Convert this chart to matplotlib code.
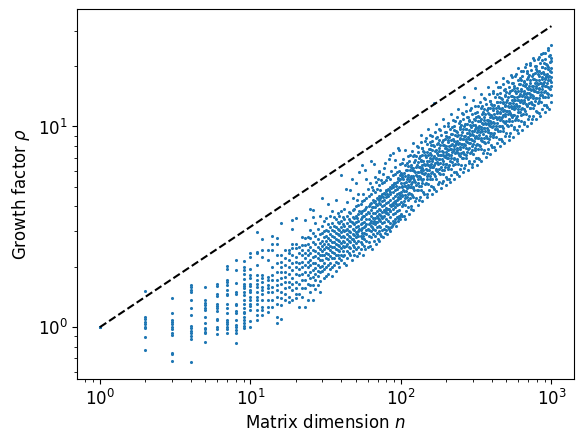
import numpy as np
import matplotlib
matplotlib.use("Agg")
import matplotlib.pyplot as plt

# growth factor samples
small_cols = [
    (1, [1.0, 1.0, 1.0]),
    (2, [1.52, 1.125, 1.096, 1.063, 1.035, 1.0, 0.985, 0.889, 0.768]),
    (3, [1.39, 1.17, 1.08, 1.063, 1.035, 1.0, 0.974, 0.93, 0.912, 0.745, 0.733, 0.675]),
    (4, [1.63, 1.59, 1.54, 1.50, 1.36, 1.24, 1.148, 1.01, 0.985, 0.955, 0.93, 0.902, 0.878, 0.669]),
    (5, [1.58, 1.36, 1.32, 1.29, 1.25, 1.22, 1.125, 1.05, 0.99, 0.974, 0.947, 0.93, 0.842]),
    (6, [1.65, 1.60, 1.47, 1.43, 1.31, 1.27, 1.24, 1.20, 1.10, 1.08, 1.0, 0.974, 0.923]),
    (7, [2.01, 1.96, 1.71, 1.67, 1.62, 1.53, 1.47, 1.44, 1.31, 1.24, 1.17, 1.09, 1.06, 1.035, 1.0, 0.974, 0.937]),
    (8, [2.17, 1.92, 1.66, 1.50, 1.47, 1.31, 1.29, 1.21, 1.18, 1.08, 1.02, 1.0, 0.966, 0.937, 0.83]),
    (9, [2.13, 2.0, 1.92, 1.85, 1.73, 1.65, 1.60, 1.56, 1.50, 1.44, 1.37, 1.31, 1.24, 1.19, 1.17, 1.125, 1.08, 1.05, 1.01, 0.985]),
    (10, [2.35, 2.24, 1.96, 1.82, 1.75, 1.65, 1.60, 1.54, 1.50, 1.42, 1.37, 1.31, 1.27, 1.22, 1.075, 1.0]),
    (11, [2.98, 2.37, 2.33, 2.04, 1.82, 1.71, 1.65, 1.58, 1.50, 1.42, 1.36, 1.30, 1.22, 1.15, 1.08]),
    (12, [2.74, 2.42, 2.24, 1.82, 1.75, 1.68, 1.59, 1.54, 1.47, 1.36, 1.26, 1.22, 1.15]),
    (13, [2.42, 2.16, 1.78, 1.71, 1.62, 1.56, 1.50, 1.36, 1.26, 1.19]),
    (14, [2.84, 2.61, 2.42, 2.0, 1.82, 1.71, 1.59, 1.50, 1.36, 1.26]),
    (15, [2.77, 2.61, 2.28, 2.08, 1.89, 1.71, 1.62, 1.53, 1.42, 1.31, 1.125, 1.05]),
    (16, [3.29, 2.28, 2.12, 2.0, 1.89, 1.75, 1.65, 1.50, 1.39, 1.29, 1.10]),
    (17, [2.42, 2.20, 2.04, 1.89, 1.78, 1.68, 1.56, 1.47, 1.36]),
    (18, [2.42, 2.33, 2.16, 2.0, 1.85, 1.68, 1.59, 1.42, 1.34]),
    (19, [3.41, 3.10, 2.61, 2.47, 2.28, 2.08, 1.92, 1.75, 1.65, 1.53, 1.36]),
    (20, [3.48, 2.61, 2.47, 2.24, 2.12, 2.0, 1.85, 1.68, 1.56, 1.47, 1.39]),
    (21, [2.51, 2.33, 2.08, 1.96, 1.82, 1.65, 1.47, 1.26]),
    (22, [2.82, 2.56, 2.42, 2.28, 2.12, 2.0, 1.85, 1.71, 1.56, 1.42]),
    (23, [3.41, 2.77, 2.56, 2.33, 2.20, 2.04, 1.89, 1.71, 1.56, 1.26]),
    (24, [2.82, 2.61, 2.42, 2.28, 2.12, 2.0, 1.82, 1.65, 1.36]),
    (25, [3.90, 3.04, 2.77, 2.51, 2.33, 2.16, 2.04, 1.89, 1.75, 1.62, 1.50]),
    (26, [3.83, 3.55, 2.93, 2.66, 2.42, 2.24, 2.08, 1.92, 1.78, 1.62, 1.36]),
]

mid_cols = [
    (27, [1.55, 1.72, 1.85, 1.98, 2.1, 2.25, 2.4, 2.6, 2.85, 3.3]),
    (28, [1.62, 1.8, 1.9, 2.05, 2.2, 2.35, 2.5, 2.75, 3.1]),
    (29, [1.5, 1.7, 1.88, 2.0, 2.15, 2.3, 2.45, 2.62, 2.9, 3.6]),
    (30, [1.9, 2.02, 2.15, 2.28, 2.4, 2.55, 2.7, 2.95, 3.2, 4.4]),
    (31, [1.75, 1.95, 2.1, 2.3, 2.45, 2.6, 2.8, 3.0, 3.4]),
    (32, [1.8, 2.0, 2.2, 2.35, 2.5, 2.68, 2.85, 3.05, 3.5]),
    (33, [1.85, 2.05, 2.18, 2.32, 2.48, 2.6, 2.78, 3.0, 3.25, 4.1]),
    (34, [1.95, 2.1, 2.25, 2.42, 2.55, 2.72, 2.9, 3.15, 3.6]),
    (35, [1.8, 2.0, 2.2, 2.38, 2.52, 2.66, 2.85, 3.05, 3.3, 3.8]),
    (36, [2.05, 2.2, 2.35, 2.5, 2.65, 2.82, 3.0, 3.2, 3.55]),
    (37, [1.9, 2.12, 2.3, 2.45, 2.6, 2.75, 2.95, 3.15, 3.45, 4.3]),
    (38, [2.1, 2.28, 2.42, 2.58, 2.72, 2.9, 3.1, 3.35, 3.7]),
    (39, [2.0, 2.2, 2.4, 2.55, 2.7, 2.88, 3.05, 3.3, 3.6]),
    (40, [2.15, 2.3, 2.48, 2.62, 2.8, 2.98, 3.15, 3.4, 3.8, 5.7]),
    (41, [2.25, 2.4, 2.55, 2.7, 2.86, 3.05, 3.25, 3.55]),
    (42, [2.1, 2.3, 2.5, 2.66, 2.82, 3.0, 3.2, 3.45, 3.9]),
    (44, [2.2, 2.4, 2.6, 2.75, 2.92, 3.1, 3.3, 3.6, 4.2]),
    (45, [2.35, 2.5, 2.68, 2.85, 3.0, 3.2, 3.45, 3.75]),
    (46, [2.3, 2.48, 2.65, 2.8, 2.98, 3.18, 3.4, 3.7, 4.8]),
    (48, [2.4, 2.58, 2.75, 2.92, 3.1, 3.3, 3.55, 3.85, 4.4]),
    (49, [2.3, 2.5, 2.7, 2.88, 3.05, 3.25, 3.5, 3.9]),
    (50, [2.45, 2.62, 2.8, 2.98, 3.15, 3.35, 3.6, 4.0, 5.2]),
    (52, [2.5, 2.7, 2.85, 3.0, 3.2, 3.4, 3.65, 4.05, 4.6]),
    (54, [2.45, 2.65, 2.85, 3.05, 3.25, 3.45, 3.7, 4.1]),
    (55, [2.6, 2.78, 2.95, 3.12, 3.3, 3.52, 3.8, 4.25, 6.4]),
    (57, [2.55, 2.75, 2.95, 3.15, 3.35, 3.58, 3.85, 4.3]),
    (59, [2.7, 2.9, 3.05, 3.25, 3.45, 3.65, 3.95, 4.4, 5.5]),
    (61, [2.65, 2.85, 3.05, 3.25, 3.45, 3.7, 4.0, 4.5]),
    (63, [2.8, 3.0, 3.2, 3.4, 3.6, 3.85, 4.15, 4.6, 6.7]),
    (65, [2.9, 3.1, 3.3, 3.5, 3.72, 3.98, 4.3, 4.8]),
    (67, [2.85, 3.05, 3.25, 3.48, 3.7, 3.95, 4.25, 4.7, 5.6]),
    (69, [2.95, 3.15, 3.35, 3.58, 3.8, 4.05, 4.4, 4.9]),
    (71, [3.0, 3.2, 3.42, 3.65, 3.9, 4.15, 4.5, 5.1, 5.9]),
    (73, [2.9, 3.15, 3.4, 3.62, 3.85, 4.1, 4.4, 4.85]),
    (75, [3.05, 3.3, 3.5, 3.75, 4.0, 4.25, 4.6, 5.2]),
    (77, [3.1, 3.35, 3.6, 3.82, 4.05, 4.3, 4.65, 5.3, 6.2]),
    (80, [3.2, 3.45, 3.7, 3.92, 4.15, 4.45, 4.8, 5.4]),
    (82, [3.15, 3.4, 3.65, 3.9, 4.2, 4.5, 4.9, 5.6]),
    (85, [3.3, 3.55, 3.8, 4.05, 4.3, 4.6, 5.0, 5.5, 7.2]),
    (88, [3.4, 3.65, 3.9, 4.15, 4.42, 4.72, 5.1, 5.7]),
    (91, [3.45, 3.7, 3.95, 4.2, 4.5, 4.8, 5.2, 5.8, 6.8]),
    (94, [3.55, 3.8, 4.05, 4.3, 4.6, 4.9, 5.3, 5.9]),
    (97, [3.6, 3.85, 4.1, 4.38, 4.68, 5.0, 5.4, 6.0, 7.6]),
]

# extra scatter between the mid columns
mid_fill = [
    (43, [2.05, 2.55, 3.05, 4.9]), (47, [2.15, 2.75, 3.35, 5.5]), (51, [2.25, 2.9, 3.5, 4.3]),
    (53, [2.35, 3.1, 3.8, 5.9]), (56, [2.3, 2.85, 3.6, 4.6]), (58, [2.45, 3.2, 3.9, 6.1]),
    (60, [2.5, 3.1, 3.75, 4.9]), (62, [2.55, 3.3, 4.1, 5.2]), (64, [2.45, 3.15, 3.95, 5.0]),
    (66, [2.7, 3.4, 4.2, 6.5]), (68, [2.6, 3.35, 4.1, 5.3]), (70, [2.75, 3.5, 4.35, 5.5]),
    (72, [2.7, 3.45, 4.3, 6.0]), (74, [2.85, 3.6, 4.5, 5.4]), (76, [2.8, 3.55, 4.45, 5.8]),
    (78, [2.95, 3.75, 4.6, 6.6]), (79, [3.05, 3.85, 4.75]), (81, [2.9, 3.7, 4.6, 5.6]),
    (83, [3.1, 3.9, 4.85, 6.9]), (84, [3.0, 3.8, 4.7]), (86, [3.15, 4.0, 4.95, 6.0]),
    (87, [3.2, 4.1, 5.1]), (89, [3.25, 4.05, 5.0, 7.4]), (90, [3.3, 4.2, 5.25]),
    (92, [3.35, 4.25, 5.2, 6.3]), (93, [3.2, 4.1, 5.05]), (95, [3.4, 4.35, 5.45, 7.8]),
    (96, [3.5, 4.45, 5.55]), (98, [3.45, 4.4, 5.5, 6.5]), (99, [3.6, 4.55, 5.7]),
]

large_cols = [
    (100, [3.65, 4.2, 4.7, 5.2, 5.85]),
    (102, [4.0, 4.55, 5.0, 5.6, 6.6]),
    (105, [3.6, 4.25, 4.75, 5.25, 5.85]),
    (107, [4.05, 4.55, 5.05, 5.65, 7.6]),
    (110, [4.45, 4.95, 5.45, 6.1, 6.6]),
    (112, [3.95, 4.6, 5.1, 5.6, 6.35]),
    (115, [4.4, 5.0, 5.45, 6.1, 7.2]),
    (117, [3.9, 4.6, 5.15, 5.65, 6.3]),
    (120, [4.45, 5.0, 5.55, 6.2, 8.3]),
    (123, [4.85, 5.4, 6.0, 6.65, 7.25]),
    (126, [4.4, 5.1, 5.7, 6.25, 7.1]),
    (129, [4.8, 5.45, 5.95, 6.65, 7.9]),
    (132, [4.3, 5.05, 5.65, 6.25, 6.95]),
    (135, [4.85, 5.45, 6.05, 6.8, 9.1]),
    (138, [5.25, 5.85, 6.45, 7.2, 7.8]),
    (141, [4.7, 5.45, 6.1, 6.7, 7.55]),
    (145, [5.15, 5.85, 6.45, 7.2, 8.5]),
    (148, [4.6, 5.45, 6.1, 6.7, 7.5]),
    (151, [5.15, 5.8, 6.45, 7.2, 9.7]),
    (155, [5.65, 6.3, 6.95, 7.75, 8.4]),
    (159, [5.05, 5.85, 6.5, 7.2, 8.1]),
    (162, [5.5, 6.25, 6.85, 7.65, 9.0]),
    (166, [4.9, 5.8, 6.45, 7.15, 7.95, 13.1]),
    (170, [5.5, 6.15, 6.85, 7.65, 10.3]),
    (174, [6.0, 6.65, 7.35, 8.2, 8.9]),
    (178, [5.3, 6.15, 6.85, 7.55, 8.55]),
    (182, [5.8, 6.6, 7.25, 8.1, 9.6]),
    (187, [5.2, 6.1, 6.85, 7.55, 8.4]),
    (191, [5.8, 6.5, 7.25, 8.1, 10.9]),
    (196, [6.3, 7.05, 7.8, 8.65, 9.4]),
    (200, [5.6, 6.5, 7.25, 8.0, 9.0]),
    (205, [6.15, 7.0, 7.65, 8.55, 10.1]),
    (209, [5.45, 6.45, 7.2, 8.0, 8.9]),
    (214, [6.15, 6.95, 7.7, 8.6, 11.5]),
    (219, [6.65, 7.45, 8.2, 9.15, 9.9]),
    (224, [5.95, 6.9, 7.7, 8.5, 9.6]),
    (229, [6.5, 7.4, 8.1, 9.05, 10.7]),
    (235, [5.8, 6.85, 7.65, 8.45, 9.4]),
    (240, [6.5, 7.35, 8.15, 9.1, 12.2]),
    (246, [7.1, 7.9, 8.75, 9.75, 10.6]),
    (251, [6.4, 7.4, 8.2, 9.05, 10.2]),
    (257, [7.0, 7.9, 8.65, 9.7, 11.5]),
    (263, [6.2, 7.3, 8.15, 9.0, 10.1, 14.0]),
    (269, [6.95, 7.85, 8.7, 9.75, 13.0]),
    (275, [7.5, 8.4, 9.3, 10.3, 11.2]),
    (282, [6.75, 7.8, 8.65, 9.55, 10.8]),
    (288, [7.35, 8.3, 9.1, 10.2, 12.1]),
    (295, [6.5, 7.65, 8.55, 9.45, 10.5]),
    (302, [7.3, 8.2, 9.1, 10.2, 13.6]),
    (309, [7.85, 8.8, 9.7, 10.8, 11.7, 15.5]),
    (316, [7.0, 8.1, 9.0, 9.95, 11.2]),
    (324, [7.7, 8.75, 9.6, 10.7, 12.7]),
    (331, [6.9, 8.1, 9.05, 10.0, 11.2]),
    (339, [7.75, 8.75, 9.7, 10.9, 14.5]),
    (347, [8.45, 9.45, 10.4, 11.6, 12.6]),
    (355, [7.6, 8.8, 9.8, 10.8, 12.2]),
    (363, [8.3, 9.45, 10.35, 11.6, 13.7]),
    (372, [7.4, 8.75, 9.8, 10.8, 12.1]),
    (380, [8.35, 9.4, 10.45, 11.7, 15.7]),
    (389, [9.0, 10.1, 11.1, 12.4, 13.4]),
    (398, [8.05, 9.3, 10.4, 11.45, 12.9]),
    (407, [8.85, 10.0, 11.0, 12.3, 14.6]),
    (417, [7.9, 9.3, 10.4, 11.5, 12.8]),
    (427, [8.9, 10.0, 11.1, 12.4, 16.6]),
    (437, [9.7, 10.85, 12.0, 13.3, 14.5]),
    (447, [8.7, 10.1, 11.2, 12.4, 14.0]),
    (457, [9.5, 10.8, 11.8, 13.2, 15.7]),
    (468, [8.45, 10.0, 11.2, 12.3, 13.7]),
    (479, [9.5, 10.7, 11.9, 13.3, 17.4]),
    (490, [10.4, 11.6, 12.8, 14.2, 15.4]),
    (501, [9.3, 10.7, 12.0, 13.2, 14.9]),
    (513, [10.1, 11.5, 12.6, 14.1, 16.7]),
    (525, [9.0, 10.6, 11.9, 13.1, 14.6]),
    (537, [10.2, 11.4, 12.7, 14.2, 18.0]),
    (550, [11.1, 12.3, 13.6, 15.2, 16.4]),
    (562, [9.9, 11.4, 12.7, 14.0, 15.9]),
    (575, [10.8, 12.3, 13.5, 15.0, 17.8]),
    (589, [9.6, 11.3, 12.7, 14.0, 15.6]),
    (603, [10.8, 12.2, 13.5, 15.1, 19.5]),
    (617, [11.8, 13.2, 14.5, 16.2, 17.5]),
    (631, [10.6, 12.2, 13.6, 15.0, 17.0]),
    (646, [11.6, 13.1, 14.4, 16.1, 19.0]),
    (661, [10.3, 12.2, 13.6, 15.0, 16.7]),
    (676, [11.6, 13.0, 14.45, 16.2, 20.5]),
    (692, [12.6, 14.1, 15.5, 17.3, 18.8]),
    (708, [11.3, 13.1, 14.6, 16.0, 18.1]),
    (724, [12.3, 14.0, 15.3, 17.1, 20.3]),
    (741, [10.9, 12.9, 14.4, 16.0, 17.8]),
    (759, [12.3, 13.9, 15.4, 17.2, 22.0]),
    (776, [13.4, 15.0, 16.5, 18.4, 20.0]),
    (794, [12.0, 13.9, 15.5, 17.1, 19.3]),
    (813, [13.1, 14.9, 16.3, 18.2, 21.6]),
    (832, [11.7, 13.8, 15.4, 17.0, 19.0]),
    (851, [13.2, 14.8, 16.45, 18.4, 23.0]),
    (871, [14.4, 16.0, 17.7, 19.7, 21.4]),
    (891, [12.8, 14.9, 16.6, 18.3, 20.6]),
    (912, [14.0, 15.9, 17.4, 19.5, 23.1]),
    (933, [12.5, 14.7, 16.5, 18.2, 20.3]),
    (955, [14.1, 15.8, 17.6, 19.7, 24.5]),
    (977, [15.3, 17.1, 18.9, 21.0, 22.8]),
    (1000, [14.4, 16.0, 17.6, 19.5, 21.9, 25.4]),
]

# second pass over the dense band, between the columns above
large_fill = [
    (101, [3.6, 4.5, 5.05, 5.75]), (103, [4.1, 4.8, 5.5, 6.85]), (106, [3.45, 4.4, 5.05, 6.4]),
    (108, [3.8, 4.75, 5.3, 6.05]), (111, [4.3, 5.0, 5.75, 7.15]), (113, [3.65, 4.65, 5.35, 6.7]),
    (116, [4.0, 5.0, 5.6, 6.4]), (118, [4.55, 5.3, 6.1, 7.55]), (121, [3.85, 4.95, 5.65, 7.1]),
    (124, [4.25, 5.3, 5.95, 6.8]), (127, [4.85, 5.65, 6.45, 8.0]), (130, [4.05, 5.2, 5.95, 7.5]),
    (133, [4.45, 5.6, 6.25, 7.15]), (136, [5.05, 5.9, 6.75, 8.4]), (139, [4.25, 5.4, 6.2, 7.8]),
    (143, [4.6, 5.8, 6.5, 7.45]), (146, [5.25, 6.15, 7.05, 8.75]), (150, [4.45, 5.65, 6.5, 8.15]),
    (153, [4.8, 6.05, 6.75, 7.75]), (157, [5.5, 6.4, 7.35, 9.1]), (160, [4.6, 5.9, 6.75, 8.5]),
    (164, [5.0, 6.3, 7.0, 8.05]), (168, [5.65, 6.6, 7.55, 9.4]), (172, [4.75, 6.05, 6.95, 8.75]),
    (176, [5.15, 6.5, 7.25, 8.3]), (180, [5.85, 6.85, 7.8, 9.75]), (184, [4.95, 6.3, 7.2, 9.1]),
    (189, [5.35, 6.7, 7.5, 8.6]), (193, [6.05, 7.1, 8.1, 10.1]), (198, [5.1, 6.5, 7.45, 9.35]),
    (202, [5.5, 6.95, 7.75, 8.85]), (207, [6.25, 7.3, 8.4, 10.4]), (211, [5.3, 6.75, 7.75, 9.7]),
    (216, [5.7, 7.2, 8.05, 9.2]), (221, [6.45, 7.55, 8.65, 10.8]), (226, [5.45, 6.95, 8.0, 10.0]),
    (232, [5.9, 7.45, 8.3, 9.5]), (237, [6.7, 7.85, 9.0, 11.2]), (243, [5.65, 7.2, 8.3, 10.4]),
    (248, [6.15, 7.75, 8.65, 9.9]), (254, [7.0, 8.2, 9.4, 11.7]), (260, [5.9, 7.5, 8.65, 10.9]),
    (266, [6.4, 8.05, 9.0, 10.3]), (272, [7.25, 8.45, 9.7, 12.0]), (278, [6.05, 7.75, 8.9, 11.2]),
    (285, [6.6, 8.3, 9.25, 10.6]), (291, [7.45, 8.7, 9.95, 12.4]), (298, [6.25, 7.95, 9.15, 11.5]),
    (305, [6.75, 8.5, 9.5, 10.85]), (312, [7.6, 8.9, 10.2, 12.7]), (320, [6.4, 8.2, 9.4, 11.8]),
    (327, [7.0, 8.8, 9.85, 11.3]), (335, [8.0, 9.35, 10.7, 13.3]), (343, [6.75, 8.6, 9.9, 12.4]),
    (351, [7.35, 9.2, 10.3, 11.8]), (359, [8.35, 9.8, 11.2, 13.9]), (367, [7.05, 9.0, 10.3, 13.0]),
    (376, [7.7, 9.65, 10.8, 12.35]), (384, [8.7, 10.15, 11.6, 14.5]), (393, [7.3, 9.3, 10.65, 13.4]),
    (402, [7.9, 9.95, 11.1, 12.75]), (412, [9.05, 10.55, 12.1, 15.0]), (422, [7.6, 9.7, 11.1, 14.0]),
    (432, [8.3, 10.4, 11.65, 13.3]), (442, [9.45, 11.05, 12.6, 15.7]), (452, [7.95, 10.1, 11.65, 14.6]),
    (462, [8.65, 10.85, 12.15, 13.9]), (473, [9.8, 11.45, 13.1, 16.3]), (484, [8.25, 10.55, 12.1, 15.2]),
    (495, [8.95, 11.25, 12.6, 14.4]), (507, [10.2, 11.9, 13.6, 16.9]), (519, [8.55, 10.9, 12.55, 15.8]),
    (531, [9.3, 11.7, 13.1, 15.0]), (543, [10.6, 12.4, 14.2, 17.6]), (556, [8.9, 11.35, 13.05, 16.4]),
    (568, [9.7, 12.2, 13.6, 15.6]), (582, [11.0, 12.9, 14.75, 18.3]), (596, [9.25, 11.8, 13.55, 17.0]),
    (610, [10.05, 12.65, 14.15, 16.2]), (624, [11.45, 13.4, 15.3, 19.0]), (638, [9.65, 12.3, 14.15, 17.8]),
    (653, [10.5, 13.2, 14.75, 16.9]), (668, [11.95, 13.95, 15.95, 19.8]), (684, [10.05, 12.8, 14.7, 18.5]),
    (700, [10.9, 13.7, 15.35, 17.55]), (716, [12.4, 14.5, 16.55, 20.6]), (732, [10.4, 13.3, 15.25, 19.2]),
    (750, [11.3, 14.2, 15.9, 18.2]), (767, [12.85, 15.05, 17.2, 21.4]), (785, [10.85, 13.8, 15.85, 19.9]),
    (803, [11.75, 14.8, 16.55, 18.9]), (822, [13.35, 15.6, 17.9, 22.2]), (841, [11.25, 14.35, 16.5, 20.7]),
    (861, [12.25, 15.4, 17.25, 19.7]), (881, [13.95, 16.3, 18.65, 23.2]), (901, [11.75, 14.95, 17.15, 21.6]),
    (922, [12.75, 16.0, 17.9, 20.5]), (944, [14.5, 16.95, 19.4, 24.1]), (966, [12.2, 15.6, 17.9, 22.5]),
    (988, [13.25, 16.65, 18.6, 21.3]),
]

# reference line rho = sqrt(n)
ref_n = [1, 1000]
ref_rho = [1.0, 31.62]

n_all = []
rho_all = []
for n, vals in small_cols + mid_cols + mid_fill + large_cols + large_fill:
    n_all += [n] * len(vals)
    rho_all += vals

fig = plt.figure(figsize=(5.83, 4.42), dpi=100)
ax = fig.add_axes([0.1326, 0.1425, 0.852, 0.8364])
ax.scatter(n_all, rho_all, s=5, linewidths=0, color="#1f77b4")
ax.plot(ref_n, ref_rho, "k--")
ax.set_xscale("log")
ax.set_yscale("log")
ax.set_xlabel("Matrix dimension $n$", fontsize=12)
ax.set_ylabel("Growth factor $\\rho$", fontsize=12)
ax.tick_params(labelsize=12)
fig.savefig("out.png", dpi=100)
